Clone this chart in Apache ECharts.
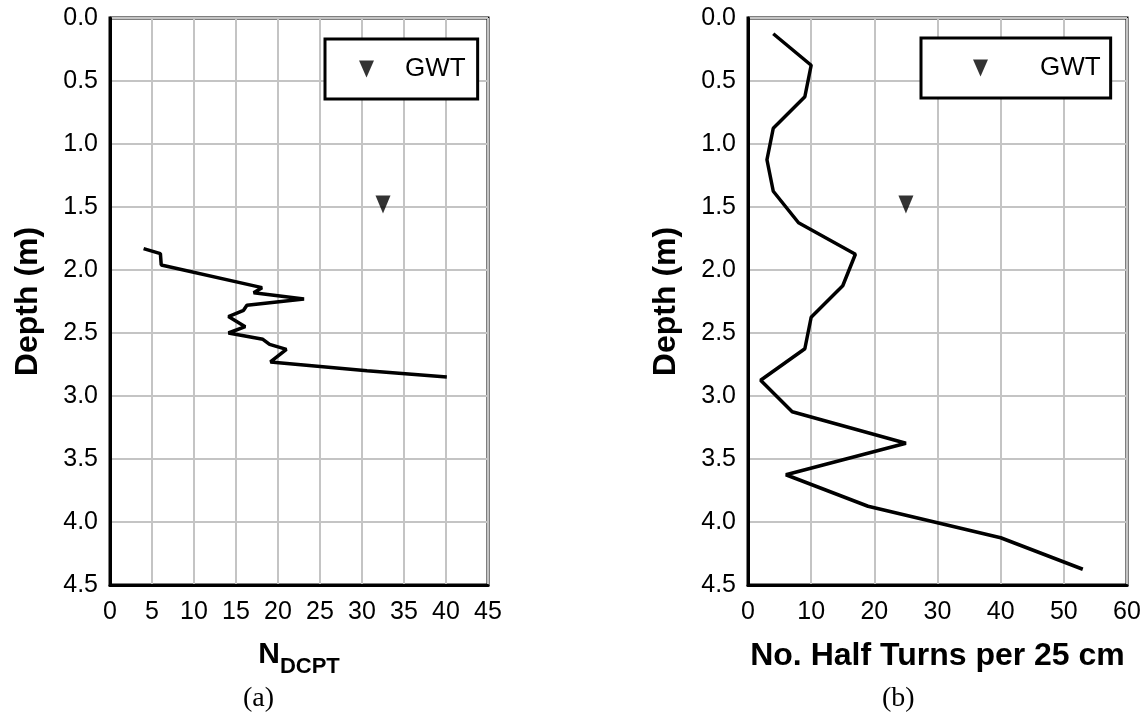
<!DOCTYPE html>
<html><head><meta charset="utf-8">
<script src="https://cdn.jsdelivr.net/npm/echarts@6/dist/echarts.min.js"></script>
<style>html,body{margin:0;padding:0;background:#fff}#chart{width:1146px;height:715px}</style>
</head><body><div id="chart"></div>
<script>
// ---- data ----
const depthA = [1.83, 1.87, 1.96, 2.14, 2.18, 2.23, 2.28, 2.32, 2.37, 2.45, 2.50, 2.55, 2.59, 2.63, 2.73, 2.80, 2.85];
const nDcpt  = [4.0, 6.0, 6.1, 18.1, 17.1, 23.1, 16.3, 15.9, 14.1, 16.1, 14.1, 18.2, 19.0, 21.0, 19.1, 30.6, 40.1];
const depthB = [0.125, 0.375, 0.625, 0.875, 1.125, 1.375, 1.625, 1.875, 2.125, 2.375, 2.625, 2.875, 3.125, 3.375, 3.625, 3.875, 4.125, 4.375];
const halfTurns = [4, 10, 9, 4, 3, 4, 8, 17, 15, 10, 9, 2, 7, 25, 6, 19, 40, 53];
const gwtA = [32.5, 1.48];
const gwtB = [25, 1.48];
const depthTicks = [0, 0.5, 1.0, 1.5, 2.0, 2.5, 3.0, 3.5, 4.0, 4.5];
const xTicksA = [0, 5, 10, 15, 20, 25, 30, 35, 40, 45];
const xTicksB = [0, 10, 20, 30, 40, 50, 60];
const yName = 'Depth (m)';
const xNameB = 'No. Half Turns per 25 cm';
const legendName = 'GWT';
const panelLabels = ['(a)', '(b)'];

// ---- styling ----
const FONT = "'Liberation Sans', Arial, sans-serif";
const TRI = 'path://M0,0L30,0L15,34Z';
const chart = echarts.init(document.getElementById('chart'), null, {renderer: 'canvas'});

function xAxis(idx, ticks, name, rich) {
  return {
    type: 'value', gridIndex: idx,
    min: ticks[0], max: ticks[ticks.length - 1], interval: ticks[1] - ticks[0],
    name: name, nameLocation: 'middle', nameGap: 55,
    nameTextStyle: Object.assign({fontFamily: FONT, fontSize: 32, fontWeight: 'bold', color: '#000'}, rich ? {rich: rich} : {}),
    axisLine: {show: true, onZero: false, lineStyle: {color: '#000', width: 3}},
    axisTick: {show: false},
    axisLabel: {fontFamily: FONT, fontSize: 25, color: '#000', margin: 15},
    splitLine: {show: true, lineStyle: {color: '#c4c4c4', width: 2}}
  };
}
function yAxis(idx) {
  return {
    type: 'value', gridIndex: idx, inverse: true,
    min: depthTicks[0], max: depthTicks[depthTicks.length - 1], interval: depthTicks[1] - depthTicks[0],
    name: yName, nameLocation: 'middle', nameGap: 66,
    nameTextStyle: {fontFamily: FONT, fontSize: 32, fontWeight: 'bold', color: '#000'},
    axisLine: {show: true, onZero: false, lineStyle: {color: '#000', width: 3}},
    axisTick: {show: false},
    axisLabel: {fontFamily: FONT, fontSize: 25, color: '#000', margin: 12, formatter: v => v.toFixed(1)},
    splitLine: {show: true, lineStyle: {color: '#c4c4c4', width: 2}}
  };
}
function legend(idx, left, top, padding, textPad) {
  return {
    left: left, top: top, orient: 'horizontal', selectedMode: false,
    data: [{name: legendName, icon: TRI}],
    itemWidth: 15, itemHeight: 17,
    padding: padding,
    backgroundColor: '#fff', borderColor: '#000', borderWidth: 3,
    textStyle: {fontFamily: FONT, fontSize: 26, color: '#000', padding: [0, 0, 0, textPad]}
  };
}

const option = {
  animation: false,
  backgroundColor: '#fff',
  grid: [
    {left: 110, top: 18, width: 378, height: 567, show: true, borderColor: '#000', borderWidth: 3, backgroundColor: 'transparent'},
    {left: 748, top: 18, width: 379, height: 567, show: true, borderColor: '#000', borderWidth: 3, backgroundColor: 'transparent'}
  ],
  xAxis: [
    xAxis(0, xTicksA, '{n|N}{s|DCPT}', {
      n: {fontFamily: FONT, fontSize: 30, fontWeight: 'bold', color: '#000', verticalAlign: 'bottom'},
      s: {fontFamily: FONT, fontSize: 22, fontWeight: 'bold', color: '#000', verticalAlign: 'bottom', padding: [0, 0, -8, 0]}
    }),
    xAxis(1, xTicksB, xNameB)
  ],
  yAxis: [yAxis(0), yAxis(1)],
  legend: [
    legend(0, 325, 39, [17, 12, 17, 34], 26),
    legend(1, 921, 38, [17, 10, 17, 52], 47)
  ],
  graphic: [
    {type: 'text', left: 243, top: 685, silent: true,
     style: {text: panelLabels[0], fontFamily: "'Liberation Serif', 'Times New Roman', serif", fontSize: 28, fill: '#000'}},
    {type: 'text', left: 882, top: 685, silent: true,
     style: {text: panelLabels[1], fontFamily: "'Liberation Serif', 'Times New Roman', serif", fontSize: 28, fill: '#000'}}
  ],
  series: [
    {type: 'line', xAxisIndex: 0, yAxisIndex: 0, symbol: 'none', silent: true,
     data: depthA.map((d, i) => [nDcpt[i], d]),
     lineStyle: {color: '#000', width: 3.5}, z: 3},
    {type: 'scatter', name: legendName, xAxisIndex: 0, yAxisIndex: 0, symbol: TRI, symbolSize: [15, 18],
     data: [gwtA], itemStyle: {color: '#000'}, z: 3},
    {type: 'line', xAxisIndex: 1, yAxisIndex: 1, symbol: 'none', silent: true,
     data: depthB.map((d, i) => [halfTurns[i], d]),
     lineStyle: {color: '#000', width: 3.5}, z: 3},
    {type: 'scatter', name: legendName, xAxisIndex: 1, yAxisIndex: 1, symbol: TRI, symbolSize: [15, 18],
     data: [gwtB], itemStyle: {color: '#000'}, z: 3}
  ]
};
chart.setOption(option);
</script></body></html>
